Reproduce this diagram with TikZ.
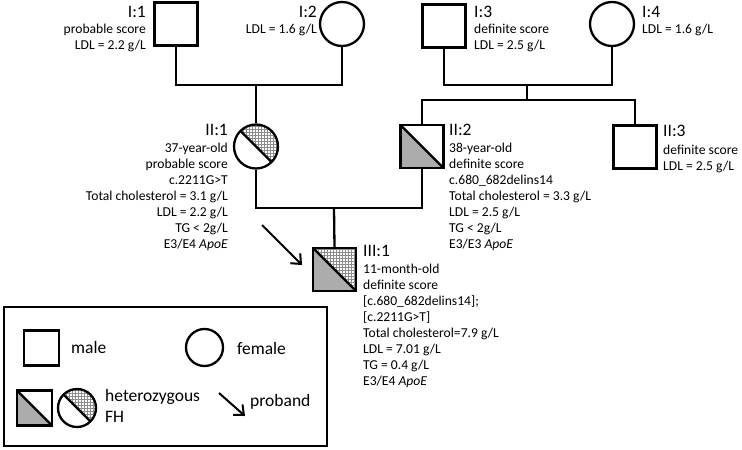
\documentclass[tikz,border=0pt]{standalone}
\usepackage{fontspec}
\setmainfont{Carlito}
\usetikzlibrary{patterns,arrows.meta}
\definecolor{fhgray}{RGB}{172,172,172}
\definecolor{hatch}{RGB}{140,140,140}
\tikzset{
  lw/.style={line width=2.3pt},
  sym/.style={draw, lw, inner sep=0pt, fill=white},
  male/.style={sym, rectangle, minimum size=#1},
  male/.default=43pt,
  female/.style={sym, circle, minimum size=#1},
  female/.default=44pt,
  graylow/.style={path picture={
     \fill[fhgray] (path picture bounding box.north west) -- (path picture bounding box.south west) -- (path picture bounding box.south east) -- cycle;
     \draw[lw] (path picture bounding box.north west) -- (path picture bounding box.south east);}},
  gridup/.style={path picture={
     \fill[pattern=grid, pattern color=hatch] (path picture bounding box.north west) -- (path picture bounding box.north east) -- (path picture bounding box.south east) -- cycle;
     \draw[lw] (path picture bounding box.north west) -- (path picture bounding box.south east);}},
  bothhalf/.style={path picture={
     \fill[fhgray] (path picture bounding box.north west) -- (path picture bounding box.south west) -- (path picture bounding box.south east) -- cycle;
     \fill[pattern=grid, pattern color=hatch] (path picture bounding box.north west) -- (path picture bounding box.north east) -- (path picture bounding box.south east) -- cycle;
     \draw[lw] (path picture bounding box.north west) -- (path picture bounding box.south east);}},
  lbl/.style={inner sep=0pt, font=\fontsize{17.5}{21}\selectfont},
  blk/.style={inner sep=0pt, font=\fontsize{13.6}{16}\selectfont},
  conn/.style={lw},
  arr/.style={line width=2pt, -{Straight Barb[length=8pt,width=14pt,line width=2pt]}},
}
\newcommand{\fstrut}{\rule{0pt}{11pt}}
\begin{document}
\begin{tikzpicture}[x=1pt,y=-1pt]
\useasboundingbox (0,0) rectangle (742,450);

% generation I
\node[male] (i1) at (176,24) {};
\node[female] (i2) at (342,24) {};
\node[male] (i3) at (444,26) {};
\node[female] (i4) at (612,24) {};

\node[lbl, anchor=base east] (l1) at (146,17) {I:1};
\node[blk, anchor=north east, align=right] (t1) at (146,22) {\fstrut probable score\\LDL = 2.2 g/L};
\node[lbl, anchor=base east] (l2) at (317,17) {I:2};
\node[blk, anchor=north east, align=right] (t2) at (317,22) {\fstrut LDL = 1.6 g/L};
\node[lbl, anchor=base west] (l3) at (474,17) {I:3};
\node[blk, anchor=north west, align=left] (t3) at (474,22) {\fstrut definite score\\LDL = 2.5 g/L};
\node[lbl, anchor=base west] (l4) at (642,17) {I:4};
\node[blk, anchor=north west, align=left] (t4) at (642,22) {\fstrut LDL = 1.6 g/L};

% generation II
\node[female, gridup] (ii1) at (256,146.5) {};
\node[male, graylow] (ii2) at (422,146.5) {};
\node[male] (ii3) at (635,147) {};

\node[lbl, anchor=base east] (l5) at (228,135) {II:1};
\node[blk, anchor=north east, align=right] (t5) at (228,141) {\fstrut 37-year-old\\probable score\\c.2211G>T\\Total cholesterol = 3.1 g/L\\LDL = 2.2 g/L\\TG < 2g/L\\E3/E4 \textit{ApoE}};
\node[lbl, anchor=base west] (l6) at (449,135) {II:2};
\node[blk, anchor=north west, align=left] (t6) at (449,141) {\fstrut 38-year-old\\definite score\\c.680\_682delins14\\Total cholesterol = 3.3 g/L\\LDL = 2.5 g/L\\TG < 2g/L\\E3/E3 \textit{ApoE}};
\node[lbl, anchor=base west] (l7) at (663,136) {II:3};
\node[blk, anchor=north west, align=left] (t7) at (663,143) {\fstrut definite score\\LDL = 2.5 g/L};

% generation III
\node[male, bothhalf] (iii1) at (334.5,269.5) {};
\node[lbl, anchor=base west] (l8) at (363,256) {III:1};
\node[blk, anchor=north west, align=left] (t8) at (363,262) {\fstrut 11-month-old\\definite score\\{[}c.680\_682delins14{]};\\{[}c.2211G>T{]}\\Total cholesterol=7.9 g/L\\LDL = 7.01 g/L\\TG = 0.4 g/L\\E3/E4 \textit{ApoE}};

% connectors
\coordinate (m1) at (256,85);
\coordinate (m2) at (527,85);
\coordinate (s2) at (527,100);
\coordinate (m3) at (334,208);
\draw[conn] (i1.south) -- (i1.south |- m1) -| (i2.south);
\draw[conn] (m1) -- (ii1.north);
\draw[conn] (i3.south) -- (i3.south |- m2) -| (i4.south);
\draw[conn] (m2) -- (s2);
\draw[conn] (ii2.north) -- (ii2.north |- s2) -- (ii3.north |- s2) -- (ii3.north);
\draw[conn] (ii1.south) -- (ii1.south |- m3) -| (ii2.south);
\draw[conn] (m3) -- (iii1.north);

\coordinate (a1) at (262,225);
\coordinate (a2) at (302,265);
\draw[arr] (a1) -- (a2);

% legend
\node[draw, lw, rectangle, minimum width=323pt, minimum height=139pt, inner sep=0pt] (leg) at (165.5,376.5) {};
\node[male=35pt] (lm) at (41.5,348) {};
\node[lbl, anchor=base west] (lmt) at (71,353) {male};
\node[female=37pt] (lf) at (204.5,347.5) {};
\node[lbl, anchor=base west] (lft) at (237,354) {female};
\node[male=35pt, graylow] (lh1) at (34.5,408) {};
\node[female=38pt, gridup] (lh2) at (77,408) {};
\node[lbl, anchor=north west, align=left] (lht) at (105,389) {heterozygous\\FH};
\coordinate (la1) at (219,393);
\coordinate (la2) at (245,416);
\draw[arr] (la1) -- (la2);
\node[lbl, anchor=base west] (lpt) at (250,406) {proband};
\end{tikzpicture}
\end{document}
